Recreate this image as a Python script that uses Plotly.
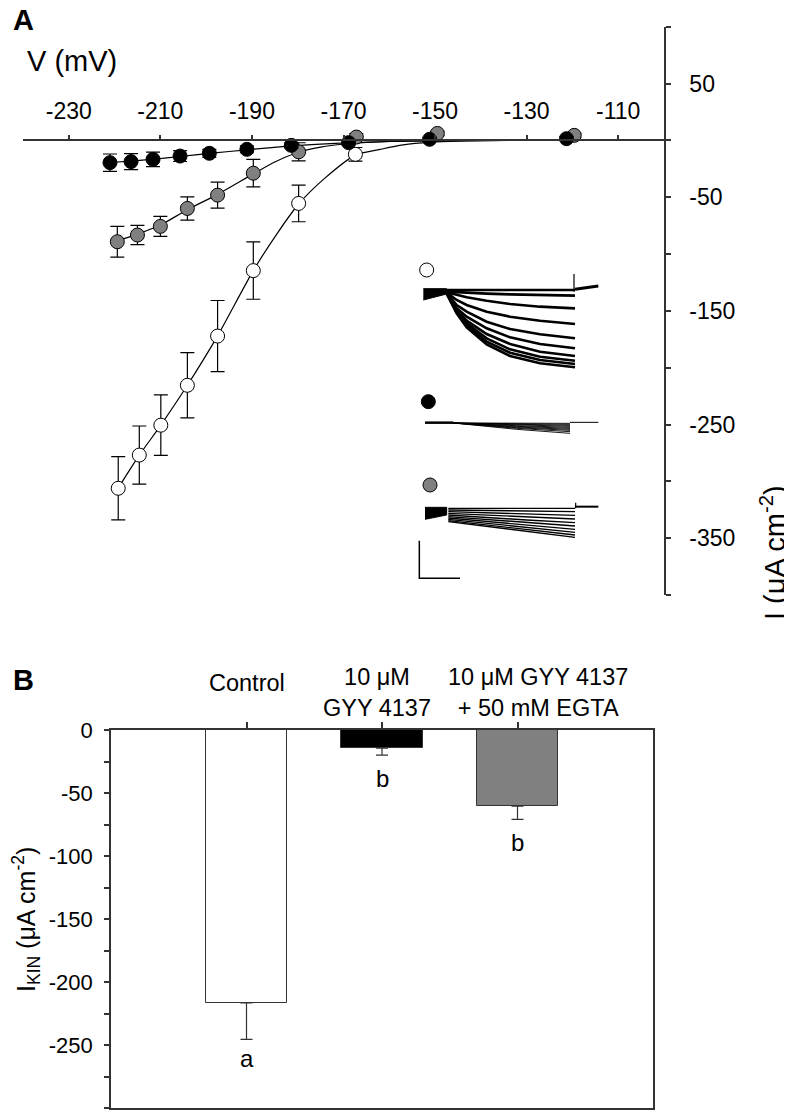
import plotly.graph_objects as go

W, H = 792, 1112
OX, OY = 8, 8  # page body offset of the rendered figure
FONT = "Liberation Sans, Arial, Helvetica, sans-serif"
AX = "#333333"


def fx(p):
    return (p - OX) / W


def fy(p):
    return 1 - (p - OY) / H


# ---------------- Panel A: I-V data ----------------
white_v = [-219.2, -214.6, -209.9, -204.1, -197.5, -189.7, -179.8, -167.4]
white_i = [-306.1, -276.9, -250.6, -215.5, -172.2, -114.6, -55.5, -12.3]
white_err = [27.8, 25.6, 26.6, 28.7, 31.3, 25.2, 16.1, 6.0]

gray_v = [-219.4, -215.0, -210.0, -204.1, -197.5, -189.7, -179.8, -167.2, -149.5, -119.6]
gray_i = [-89.2, -83.3, -75.7, -59.9, -48.2, -28.9, -10.1, 2.9, 6.1, 4.4]
gray_err = [13.6, 8.5, 8.8, 10.2, 11.4, 12.1, 8.0, 3.0, 2.0, 2.0]

black_v = [-221.0, -216.4, -211.6, -205.7, -199.3, -191.1, -181.4, -168.9, -151.2, -121.3]
black_i = [-19.6, -18.7, -16.7, -13.8, -11.4, -7.9, -4.4, -2.0, 0.9, 1.5]
black_err = [7.6, 7.0, 6.4, 4.8, 3.5, 3.0, 2.5, 2.0, 1.5, 1.5]

# fitted curves
white_fit_v = [-219.2, -214.6, -209.9, -204.1, -197.5, -189.7, -184.5, -179.8, -174, -167.4, -162, -157, -151, -145, -135, -120]
white_fit_i = [-306, -277, -250.5, -215.5, -172, -114.6, -82, -56, -33, -13, -8, -4, -1.6, -0.6, -0.1, 0]
gray_fit_v = [-219.4, -215, -210, -204.1, -197.5, -189.7, -185, -179.8, -175, -170, -165, -160, -150, -140, -120]
gray_fit_i = [-88.5, -82.5, -74.5, -61, -47.5, -29.5, -19, -10.5, -6, -3.2, -1.8, -1, -0.3, -0.1, 0]
black_fit_v = [-221, -216.4, -211.6, -205.7, -199.3, -191.1, -181.4, -175, -168.9, -160, -150, -140, -121]
black_fit_i = [-19.5, -18.2, -16.6, -14.2, -11.5, -8.3, -4.9, -3.3, -2.1, -1.0, -0.4, -0.2, 0]

v_ticks = [-230, -210, -190, -170, -150, -130, -110]
i_ticks = [-350, -250, -150, -50, 50]
i_minor = [-400, -300, -200, -100, 0, 100]

# ---------------- Inset: current traces (arbitrary units) ----------------
w_t = [140, 170, 200, 260, 330, 420, 525]
w_traces = [
    [-120, -120, -120, -120, -120, -120, -120],
    [-125, -127, -129, -131, -133, -135, -137],
    [-127, -135, -142, -152, -162, -170, -175],
    [-128, -150, -165, -185, -200, -212, -222],
    [-129, -165, -185, -215, -237, -253, -265],
    [-129, -175, -200, -235, -262, -282, -295],
    [-130, -180, -212, -252, -282, -305, -318],
    [-130, -185, -220, -265, -298, -320, -332],
    [-130, -188, -226, -275, -308, -330, -342],
    [-130, -190, -232, -283, -318, -340, -352],
]
w_hold_t = [70, 140, 140, 70]
w_hold_i = [-116, -116, -132, -150]
w_tail_t = [525, 595]
w_tail_i = [-118, -108]

b_t = [160, 250, 350, 510]
b_traces = [
    [-519, -519, -520, -520],
    [-519, -520, -521, -523],
    [-519, -521, -523, -526],
    [-519, -522, -525, -529],
    [-519, -523, -527, -532],
    [-519, -524, -529, -535],
    [-519, -525, -531, -538],
    [-519, -526, -533, -541],
    [-519, -527, -535, -545],
    [-519, -528, -538, -550],
]
b_hold_t = [75, 160]
b_hold_i = [-518, -518]
b_tail_t = [510, 595]
b_tail_i = [-517, -517]

g_t = [145, 250, 380, 525]
g_traces = [
    [-775, -775, -775, -775],
    [-780, -781, -783, -785],
    [-785, -788, -792, -796],
    [-790, -795, -801, -807],
    [-795, -802, -810, -818],
    [-800, -808, -818, -828],
    [-804, -814, -826, -838],
    [-808, -819, -833, -847],
    [-812, -824, -840, -855],
    [-815, -828, -845, -862],
]
g_hold_t = [75, 140, 140, 75]
g_hold_i = [-772, -772, -795, -808]
g_tail_t = [525, 595]
g_tail_i = [-770, -770]

# ---------------- Panel B data ----------------
conditions = ["Control", "10 μM<br>GYY 4137", "10 μM GYY 4137<br>+ 50 mM EGTA"]
ikin = [-216.5, -14.5, -60.5]
ikin_err = [29.0, 5.5, 10.5]
letters = ["a", "b", "b"]
bar_colors = ["white", "black", "#808080"]
b_ticks = [-250, -200, -150, -100, -50, 0]
b_minor = [-300, -275, -225, -175, -125, -75, -25]

# ---------------- geometry ----------------
A_xdom = [fx(23), fx(664)]
A_ydom = [fy(595), fy(26.7)]
A_yr = [-400, 100]
x_pos = A_ydom[0] + (0 - A_yr[0]) / (A_yr[1] - A_yr[0]) * (A_ydom[1] - A_ydom[0])
B_xdom = [fx(111), fx(653)]
B_ydom = [fy(1108), fy(730)]
I_xdom = [fx(400), fx(660)]
I_ydom = [fy(590), fy(250)]

fig = go.Figure()

for fv, fi in [(white_fit_v, white_fit_i), (gray_fit_v, gray_fit_i), (black_fit_v, black_fit_i)]:
    fig.add_trace(go.Scatter(x=fv, y=fi, mode="lines", line=dict(color="black", width=1.2, shape="spline", smoothing=0.8),
                             hoverinfo="skip", showlegend=False, xaxis="x", yaxis="y"))

for v, i, e, fc in [(white_v, white_i, white_err, "white"), (gray_v, gray_i, gray_err, "#808080"),
                    (black_v, black_i, black_err, "black")]:
    fig.add_trace(go.Scatter(x=v, y=i, mode="markers",
                             marker=dict(size=14, color=fc, line=dict(color="black", width=1)),
                             error_y=dict(type="data", array=e, color="black", thickness=1.2, width=7),
                             showlegend=False, xaxis="x", yaxis="y"))


def inset_line(t, y, width, fill=False):
    fig.add_trace(go.Scatter(x=t, y=y, mode="lines", line=dict(color="black", width=width),
                             fill="toself" if fill else None, fillcolor="black",
                             hoverinfo="skip", showlegend=False, xaxis="x3", yaxis="y3"))


inset_line(w_hold_t, w_hold_i, 1, fill=True)
for tr in w_traces:
    inset_line(w_t, tr, 2.6)
inset_line(w_tail_t, w_tail_i, 3)
inset_line([522, 522], [-72, -125], 1.2)
inset_line(b_hold_t, b_hold_i, 2.5)
for tr in b_traces:
    inset_line(b_t, tr, 0.9)
inset_line(b_tail_t, b_tail_i, 1)
inset_line(g_hold_t, g_hold_i, 1, fill=True)
for tr in g_traces:
    inset_line(g_t, tr, 1.4)
inset_line(g_tail_t, g_tail_i, 2)
inset_line([527, 527], [-758, -775], 1.2)
inset_line([58, 58, 180], [-872, -985, -985], 1.5)
fig.add_trace(go.Scatter(x=[80, 85, 90], y=[-60, -455, -705], mode="markers",
                         marker=dict(size=14, color=["white", "black", "#808080"], line=dict(color="black", width=1)),
                         hoverinfo="skip", showlegend=False, xaxis="x3", yaxis="y3"))

# Panel B bars
xs = list(range(len(conditions)))
fig.add_trace(go.Bar(x=xs, y=ikin, width=0.6, marker=dict(color=bar_colors, line=dict(color=AX, width=1)),
                     error_y=dict(type="data", symmetric=False, array=[0] * len(ikin), arrayminus=ikin_err,
                                  color=AX, thickness=1.2, width=6),
                     showlegend=False, xaxis="x2", yaxis="y2"))

ann = []
letter_shift = [-4, -8, -8]
for k, (lab, m, e) in enumerate(zip(letters, ikin, ikin_err)):
    ann.append(dict(x=k, y=m - e, xref="x2", yref="y2", text=lab, showarrow=False, yanchor="top",
                    yshift=letter_shift[k], font=dict(size=24)))
label_y = [683, 692, 692]
label_dx = [0, -5, 20]
for k, lab in enumerate(conditions):
    ann.append(dict(x=k, y=fy(label_y[k]), xref="x2", yref="paper", text=lab, showarrow=False,
                    xshift=label_dx[k], yanchor="middle", font=dict(size=23.5)))

ann += [
    dict(x=fx(11), y=fy(2), xref="paper", yref="paper", text="<b>A</b>", showarrow=False,
         xanchor="left", yanchor="top", font=dict(size=29)),
    dict(x=fx(11), y=fy(662), xref="paper", yref="paper", text="<b>B</b>", showarrow=False,
         xanchor="left", yanchor="top", font=dict(size=29)),
    dict(x=fx(72), y=fy(61), xref="paper", yref="paper", text="V (mV)", showarrow=False,
         xanchor="center", yanchor="middle", font=dict(size=29)),
    dict(x=fx(773), y=fy(553), xref="paper", yref="paper", text="I (μA cm<sup>-2</sup>)", showarrow=False,
         xanchor="center", yanchor="middle", textangle=-90, font=dict(size=29)),
    dict(x=fx(26), y=fy(920), xref="paper", yref="paper", text="I<sub>KIN</sub> (μA cm<sup>-2</sup>)",
         showarrow=False, xanchor="center", yanchor="middle", textangle=-90, font=dict(size=25)),
]

axis_common = dict(showgrid=False, zeroline=False, showline=True, linecolor=AX, linewidth=1.5,
                   ticks="outside", tickcolor=AX, tickwidth=1.5, automargin=False)
minor_common = dict(ticks="outside", ticklen=5, tickcolor=AX, tickwidth=1.5, showgrid=False)

fig.update_layout(
    width=W, height=H, margin=dict(l=0, r=0, t=0, b=0, pad=0, autoexpand=False),
    paper_bgcolor="white", plot_bgcolor="rgba(0,0,0,0)",
    font=dict(family=FONT, color="black"),
    showlegend=False,
    xaxis=dict(domain=A_xdom, range=[-240, -100], anchor="free", position=x_pos, side="top",
               tickvals=v_ticks, ticktext=[str(t) for t in v_ticks], ticklen=5, ticklabelstandoff=6,
               tickfont=dict(size=23, color="black"), **axis_common),
    yaxis=dict(domain=A_ydom, range=A_yr, anchor="x", side="right", tickvals=i_ticks,
               ticktext=[str(t) for t in i_ticks], minor=dict(tickvals=i_minor, **minor_common),
               ticklen=5, ticklabelstandoff=14, tickfont=dict(size=23, color="black"), **axis_common),
    xaxis2=dict(domain=B_xdom, range=[-1, 3], anchor="y2", side="top", mirror=True, tickvals=xs,
                showticklabels=False, ticklen=6, **axis_common),
    yaxis2=dict(domain=B_ydom, range=[-300, 0], anchor="x2", mirror=True, tickvals=b_ticks,
                ticktext=[str(t) for t in b_ticks], minor=dict(tickvals=b_minor, **minor_common),
                ticklen=5, ticklabelstandoff=7, tickfont=dict(size=22, color="black"), **axis_common),
    xaxis3=dict(domain=I_xdom, range=[0, 780], anchor="y3", visible=False),
    yaxis3=dict(domain=I_ydom, range=[-1020, 0], anchor="x3", visible=False),
    annotations=ann,
    bargap=0,
)

fig.write_html("out.html")
